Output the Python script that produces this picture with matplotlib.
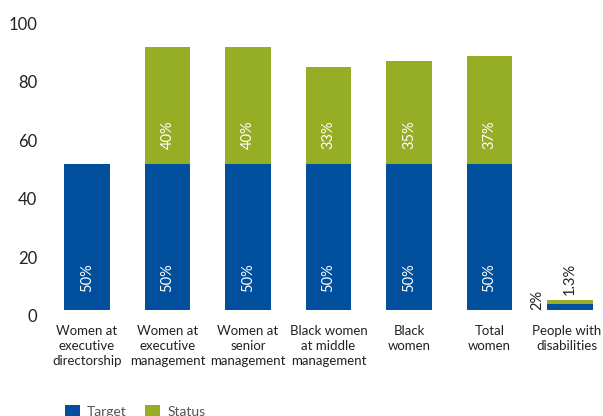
import matplotlib
matplotlib.use('Agg')
import matplotlib.pyplot as plt
import matplotlib.transforms as mtransforms

categories = ['Women at\nexecutive\ndirectorship', 'Women at\nexecutive\nmanagement',
              'Women at\nsenior\nmanagement', 'Black women\nat middle\nmanagement',
              'Black\nwomen', 'Total\nwomen', 'People with\ndisabilities']
target = [50, 50, 50, 50, 50, 50, 2]
status = [0, 40, 40, 33, 35, 37, 1.3]
target_labels = ['50%', '50%', '50%', '50%', '50%', '50%', '2%']
status_labels = ['', '40%', '40%', '33%', '35%', '37%', '1.3%']
yticks = [0, 20, 40, 60, 80, 100]

blue = '#00509e'
green = '#96ad26'

plt.rcParams['font.family'] = ['Lato', 'DejaVu Sans']

fig = plt.figure(figsize=(6.03, 4.16), dpi=100)
ax = fig.add_axes([0.0775, 0.2548, 0.9225, 0.703])

x = list(range(len(categories)))
w = 0.571
ax.bar(x, target, width=w, color=blue, label='Target')
ax.bar(x, status, width=w, bottom=target, color=green, label='Status')

ax.set_xlim(-0.5, 6.41)
ax.set_ylim(0, 100)
ax.set_yticks(yticks)
ax.set_xticks(x)
ax.set_xticklabels(categories, fontsize=9.5, linespacing=1.3, color='#222222')
ax.tick_params(axis='both', length=0)
ax.tick_params(axis='x', pad=10.5)
ax.tick_params(axis='y', labelsize=12, labelcolor='#222222', pad=7)
for s in ax.spines.values():
    s.set_visible(False)

# y tick labels sit a bit lower than the real value
off = mtransforms.ScaledTranslation(0, -5.5 / 100, fig.dpi_scale_trans)
for lab in ax.get_yticklabels():
    lab.set_transform(lab.get_transform() + off)

# keep the last category label inside the picture
xlabs = ax.get_xticklabels()
shift = mtransforms.ScaledTranslation(-3 / 100, 0, fig.dpi_scale_trans)
xlabs[-1].set_transform(xlabs[-1].get_transform() + shift)

# labels inside bars
for i in range(len(categories) - 1):
    ax.annotate(target_labels[i], (i, 0), xytext=(0, 13), textcoords='offset points',
                rotation=90, ha='center', va='bottom', color='white', fontsize=10.5)
    if status_labels[i]:
        ax.annotate(status_labels[i], (i, target[i]), xytext=(0, 10.5), textcoords='offset points',
                    rotation=90, ha='center', va='bottom', color='white', fontsize=10.5)

# small bar: labels outside
last = len(categories) - 1
ax.annotate(target_labels[last], (last - w / 2, 0), xytext=(-2, 0), textcoords='offset points',
            rotation=90, ha='right', va='bottom', color='#222222', fontsize=10.5)
ax.annotate(status_labels[last], (last, target[last] + status[last]), xytext=(0, 4),
            textcoords='offset points', rotation=90, ha='center', va='bottom',
            color='#222222', fontsize=10.5)

fig.legend(loc='upper left', bbox_to_anchor=(65 / 603, 1 - 405 / 416), ncol=2, frameon=False,
           fontsize=10, handlelength=1.1, handleheight=1.1, handletextpad=0.5,
           columnspacing=1.3, borderpad=0, borderaxespad=0, labelcolor='#555555')

fig.savefig('out.png', dpi=100)
